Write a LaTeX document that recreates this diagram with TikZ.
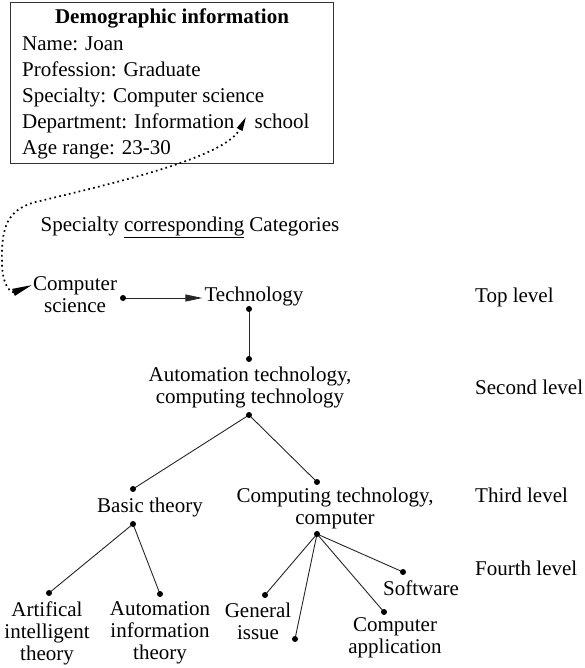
\documentclass[tikz,border=0pt]{standalone}
\usepackage{fontspec}
\setmainfont{Liberation Serif}
\usetikzlibrary{arrows.meta}

\begin{document}
\begin{tikzpicture}[x=1pt,y=-1pt,font=\fontsize{21}{22}\selectfont,
  lbl/.style={align=center,inner sep=2pt},
  lvl/.style={anchor=west,inner sep=0pt},
  link/.style={line width=0.9pt,black!85},
  tip/.style={-{Triangle[length=17pt,width=7pt]}},
  dotlink/.style={line width=1.7pt,dash pattern=on 1.7pt off 3.3pt,
    {Triangle[length=20pt,width=7pt,sep=0pt]}-{Triangle[length=14pt,width=6pt]}}]

\useasboundingbox (0,0) rectangle (585,668);

% demographic box
\node[draw,line width=1pt,black!80,minimum width=323pt,minimum height=161pt,anchor=north west,inner sep=0pt] (info) at (10,2) {};
\node[font=\fontsize{21}{22}\selectfont\bfseries] (title) at (172,18) {Demographic information};
\node[anchor=north west,align=left,inner sep=0pt,font=\fontsize{21}{26}\selectfont] (fields) at (22,37)
  {Name: Joan\\Profession: Graduate\\Specialty: Computer science\\Department: Information\hspace{15pt} school\\Age range: 23-30};
\coordinate (dept) at (246,117);

\node (head) at (190,227) {Specialty \underline{corresponding} Categories};

% tree labels
\node[lbl] (cs) at (75,295) {Computer\\science};
\node[lbl] (tech) at (254,296) {Technology};
\node[lbl] (auto) at (250,387) {Automation technology,\\computing technology};
\node[lbl] (basic) at (150,507) {Basic theory};
\node[lbl] (comp) at (335,508) {Computing technology,\\computer};
\node[lbl] (ai) at (47,633) {Artifical\\intelligent\\theory};
\node[lbl] (ait) at (160,633) {Automation\\information\\theory};
\node[lbl] (gi) at (258,621) {General\\issue};
\node[lbl] (ca) at (395,638) {Computer\\application};
\node[lbl] (sw) at (421,588) {Software};

% levels
\node[lvl] (top) at (475,297) {Top level};
\node[lvl] (second) at (475,387) {Second level};
\node[lvl] (third) at (475,495) {Third level};
\node[lvl] (fourth) at (475,568) {Fourth level};

% dots
\coordinate (csdot) at (123,298);
\coordinate (techdot) at (249,309);
\coordinate (autoup) at (249,359);
\coordinate (autodn) at (249,415);
\coordinate (basicup) at (133,489);
\coordinate (basicdn) at (133,524);
\coordinate (compup) at (317,482);
\coordinate (compdn) at (317,534);
\coordinate (aidot) at (49,593);
\coordinate (aitdot) at (160,594);
\coordinate (gidot) at (265,595);
\coordinate (extra) at (295,639);
\coordinate (cadot) at (384,612);
\coordinate (swdot) at (403,572);

\coordinate (cstip) at (32,285);

\draw[link,tip] (csdot) -- (tech.west |- csdot);
\draw[link] (techdot) -- (autoup);
\draw[link] (autodn) -- (basicup);
\draw[link] (autodn) -- (compup);
\draw[link] (basicdn) -- (aidot);
\draw[link] (basicdn) -- (aitdot);
\draw[link] (compdn) -- (gidot);
\draw[link] (compdn) -- (extra);
\draw[link] (compdn) -- (cadot);
\draw[link] (compdn) -- (swdot);

\foreach \p in {csdot,techdot,autoup,autodn,basicup,basicdn,compup,compdn,aidot,aitdot,gidot,extra,cadot,swdot}
  \fill (\p) circle (3pt);

% specialty link
\draw[dotlink] (cstip) .. controls (12,293) and (3,288) .. (2,265)
  .. controls (1,228) and (6,208) .. (40,201)
  .. controls (110,184) and (225,158) .. (dept);

\end{tikzpicture}
\end{document}
